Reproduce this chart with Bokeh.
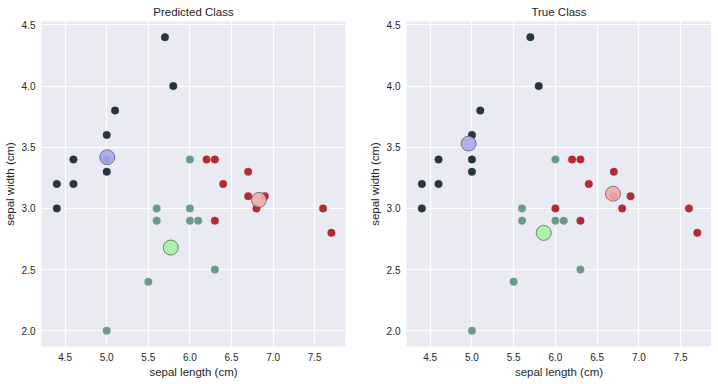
from bokeh.plotting import figure
from bokeh.layouts import row
from bokeh.models import ColumnDataSource, FixedTicker, Range1d, NumeralTickFormatter
from bokeh.embed import file_html
from bokeh.resources import INLINE

sepal_length = [5.7, 5.8, 5.1, 5.0, 4.6, 5.0, 5.0, 4.4, 4.6, 4.4,
                6.0, 5.6, 5.6, 6.0, 6.1, 6.3, 5.5, 5.0,
                6.2, 6.3, 6.7, 6.4, 6.7, 6.9, 6.0, 6.8, 7.6, 6.3, 7.7]
sepal_width = [4.4, 4.0, 3.8, 3.6, 3.4, 3.4, 3.3, 3.2, 3.2, 3.0,
               3.4, 3.0, 2.9, 2.9, 2.9, 2.5, 2.4, 2.0,
               3.4, 3.4, 3.3, 3.2, 3.1, 3.1, 3.0, 3.0, 3.0, 2.9, 2.8]
true_class = [0]*10 + [1]*8 + [2]*11
pred_class = [0]*10 + [1]*8 + [2]*6 + [1] + [2]*4

pred_centers_x = [5.006, 5.77, 6.83]
pred_centers_y = [3.418, 2.68, 3.07]
true_centers_x = [4.96, 5.86, 6.69]
true_centers_y = [3.53, 2.80, 3.12]

x_ticks = [4.5, 5.0, 5.5, 6.0, 6.5, 7.0, 7.5]
y_ticks = [2.0, 2.5, 3.0, 3.5, 4.0, 4.5]

point_colors = ["#26363a", "#6c9a8a", "#b32a35"]
center_colors = ["#a9a9f0", "#a6f2a6", "#f2aaaa"]

FONT = "Liberation Sans"


def make_panel(title, labels, cx, cy, fw, right_border):
    p = figure(frame_width=fw, frame_height=325, output_backend="svg",
               toolbar_location=None, title=title,
               x_range=Range1d(4.216, 7.87), y_range=Range1d(1.871, 4.528),
               min_border_left=0, min_border_right=right_border,
               min_border_top=0, min_border_bottom=0)
    p.background_fill_color = "#eaeaf2"
    p.border_fill_color = "white"
    p.outline_line_color = None
    p.title.align = "center"
    p.title.text_font = FONT
    p.title.text_font_size = "11.5px"
    p.title.text_font_style = "normal"
    p.title.text_color = "#262626"
    p.title.standoff = 7
    for ax in (p.xaxis[0], p.yaxis[0]):
        ax.axis_line_color = None
        ax.major_tick_line_color = None
        ax.minor_tick_line_color = None
        ax.major_tick_out = 0
        ax.major_tick_in = 0
        ax.minor_tick_out = 0
        ax.major_label_text_font = FONT
        ax.major_label_text_font_size = "10px"
        ax.major_label_text_color = "#262626"
        ax.axis_label_text_font = FONT
        ax.axis_label_text_font_size = "11.5px"
        ax.axis_label_text_font_style = "normal"
        ax.axis_label_text_color = "#262626"
        ax.axis_label_standoff = 3
        ax.major_label_standoff = 6
        ax.formatter = NumeralTickFormatter(format="0.0")
    p.xaxis[0].axis_label_standoff = 2
    p.xaxis.ticker = FixedTicker(ticks=x_ticks)
    p.yaxis.ticker = FixedTicker(ticks=y_ticks)
    p.xaxis.axis_label = "sepal length (cm)"
    p.yaxis.axis_label = "sepal width (cm)"
    p.grid.grid_line_color = "white"
    p.grid.grid_line_width = 1.2

    colors = [point_colors[c] for c in labels]
    src = ColumnDataSource(dict(x=sepal_length, y=sepal_width, c=colors))
    p.scatter("x", "y", source=src, size=7.5, fill_color="c", line_color="c",
              line_width=0.5)
    csrc = ColumnDataSource(dict(x=cx, y=cy, c=center_colors))
    p.scatter("x", "y", source=csrc, size=15, fill_color="c", fill_alpha=0.9,
              line_color="#3a3a3a", line_width=0.6)
    return p


p1 = make_panel("Predicted Class", pred_class, pred_centers_x, pred_centers_y, 304, 20)
p2 = make_panel("True Class", true_class, true_centers_x, true_centers_y, 305, 0)
layout = row(p1, p2, spacing=0)

open("out.html", "w").write(file_html(layout, INLINE))
